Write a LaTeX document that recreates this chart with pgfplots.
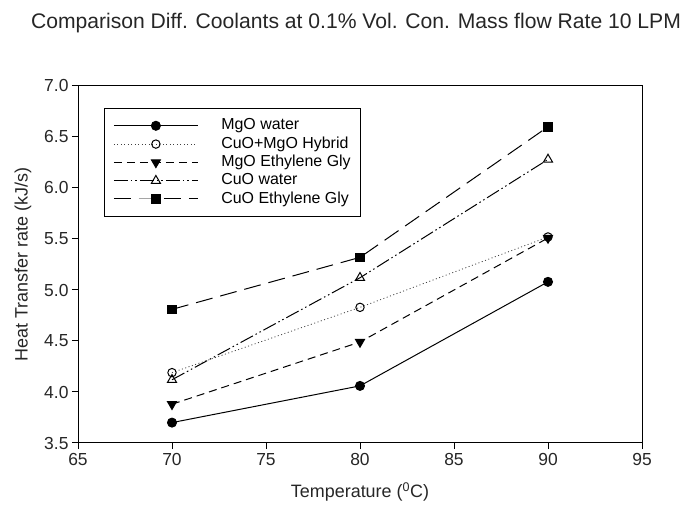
\documentclass[border=0pt]{standalone}
\usepackage{pgfplots}
\pgfplotsset{compat=1.18}
\usepackage{fontspec}
\setmainfont{Liberation Sans}
\begin{document}
\begin{tikzpicture}
\useasboundingbox (0bp,0bp) rectangle (692bp,507bp);
\begin{axis}[
  at={(78bp,64bp)}, anchor=south west,
  scale only axis, width=564bp, height=357bp,
  xmin=65, xmax=95, ymin=3.5, ymax=7.0,
  xtick={65,70,75,80,85,90,95},
  ytick={3.5,4.0,4.5,5.0,5.5,6.0,6.5,7.0},
  tick align=outside, tick pos=left,
  major tick length=6bp,
  every tick/.style={black, line width=1bp},
  axis line style={black, line width=1bp},
  /pgf/number format/assume math mode=true,
  ticklabel style={font=\fontsize{17.5}{20}\selectfont, text=black!85},
  xticklabel style={/pgf/number format/fixed, yshift=-1bp},
  yticklabel style={/pgf/number format/fixed, /pgf/number format/fixed zerofill, /pgf/number format/precision=1},
  xlabel={Temperature (\textsuperscript{0}C)},
  ylabel={Heat Transfer rate (kJ/s)},
  label style={font=\fontsize{18}{21}\selectfont, text=black!85},
  xlabel style={at={(axis description cs:0.5,-0.137)}, anchor=center},
  ylabel style={at={(axis description cs:-0.0975,0.5)}, anchor=center},
  legend cell align=left,
  legend style={at={(axis description cs:0.046,0.938)}, anchor=north west,
    draw=black, line width=1bp, font=\fontsize{16}{18}\selectfont,
    inner xsep=9bp, inner ysep=8bp, row sep=0bp,
    nodes={inner sep=1bp, text height=12.3bp, text depth=4bp},
    /tikz/every odd column/.append style={column sep=22bp}},
  legend image code/.code={\draw[mark repeat=2,mark phase=2,#1] plot coordinates {(0cm,0cm) (1.48cm,0cm) (2.96cm,0cm)};},
]
\addplot[black, line width=1bp, mark=*, mark size=4.5bp, mark options={solid}]
  coordinates {(70,3.70) (80,4.06) (90,5.08)};
\addlegendentry{MgO water}
\addplot[black!75, line width=0.8bp, dash pattern=on 1bp off 2.5bp, mark=o, mark size=4.2bp, mark options={solid, black, line width=1bp, fill=white}]
  coordinates {(70,4.19) (80,4.83) (90,5.52)};
\addlegendentry{CuO+MgO Hybrid}
\addplot[black, line width=1bp, dash pattern=on 8bp off 5bp, mark=triangle*, mark size=5.2bp, mark options={solid, rotate=180}]
  coordinates {(70,3.88) (80,4.49) (90,5.51)};
\addlegendentry{MgO Ethylene Gly}
\addplot[black, line width=1bp, dash pattern=on 14bp off 3bp on 1.5bp off 3bp on 1.5bp off 3bp, mark=triangle, mark size=5.2bp, mark options={solid, fill=white}]
  coordinates {(70,4.12) (80,5.12) (90,6.28)};
\addlegendentry{CuO water}
\addplot[black, line width=1bp, dash pattern=on 17bp off 8bp, mark=square*, mark size=4.3bp, mark options={solid}]
  coordinates {(70,4.81) (80,5.32) (90,6.60)};
\addlegendentry{CuO Ethylene Gly}
\end{axis}
\node[text=black!85] at (356bp,484bp) {\fontsize{21.2}{24}\selectfont Comparison Diff. Coolants at 0.1\% Vol. Con. Mass flow Rate 10 LPM};
\end{tikzpicture}
\end{document}
